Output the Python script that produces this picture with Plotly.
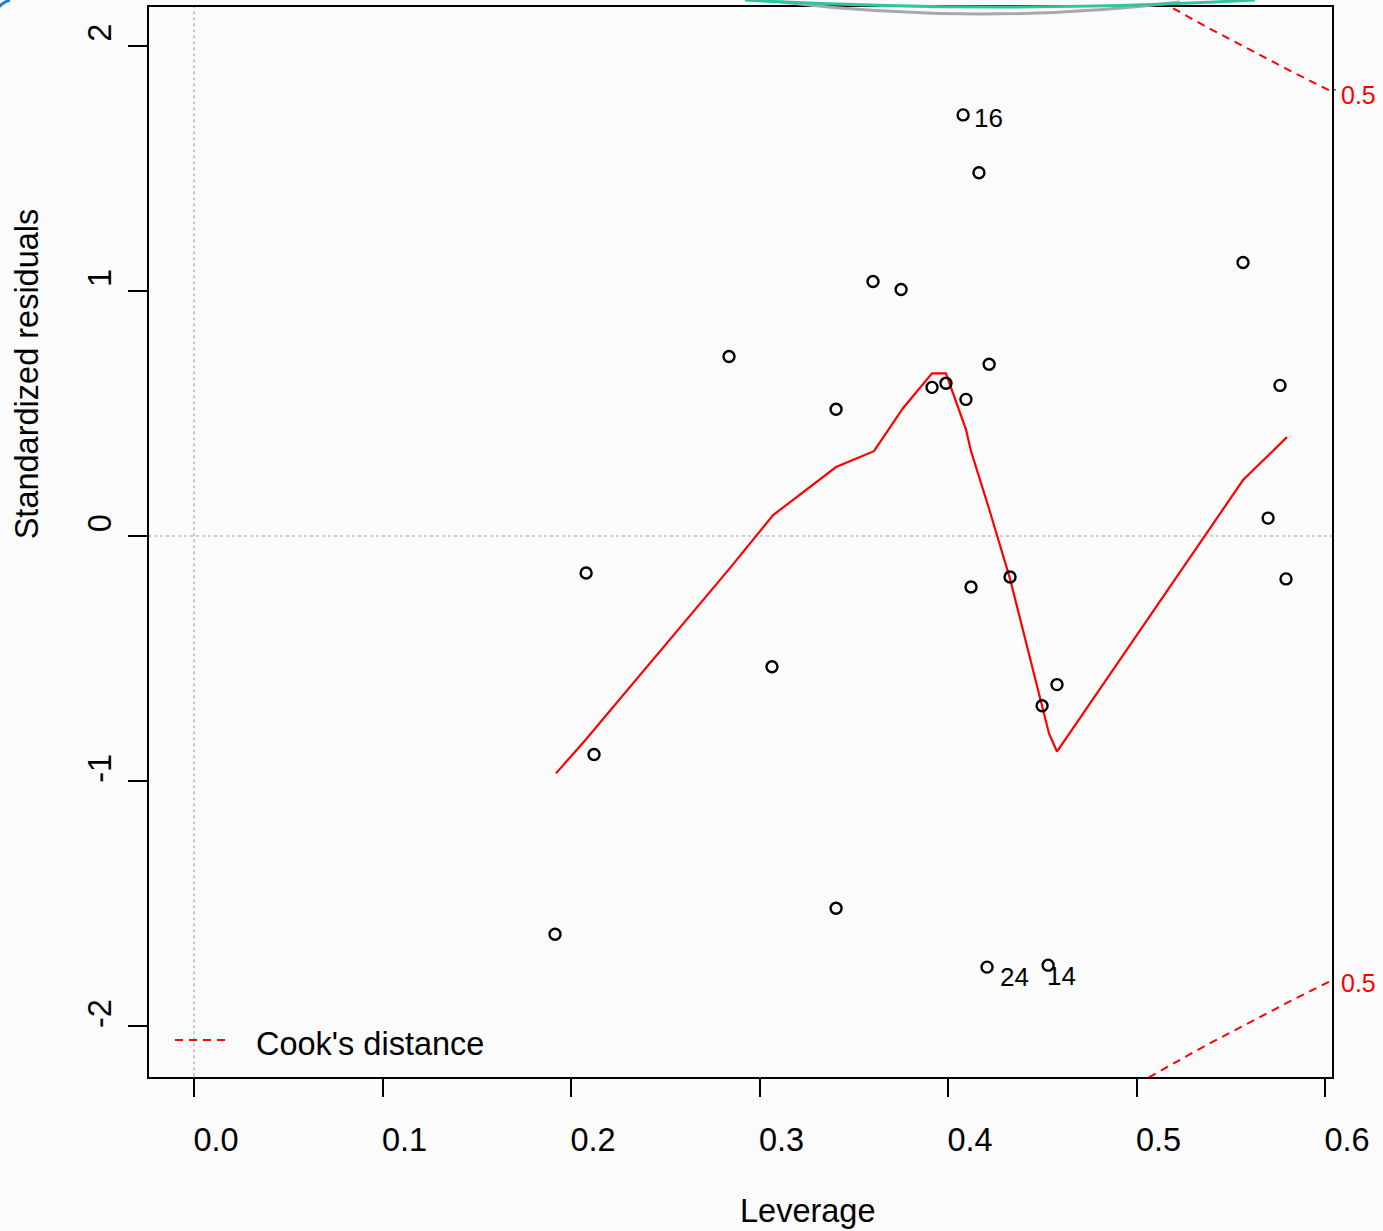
import plotly.graph_objects as go

# ---- data ----
leverage = [0.408, 0.4164, 0.3602, 0.3751, 0.5565, 0.2838, 0.4218, 0.3915, 0.3989,
            0.4095, 0.3406, 0.5761, 0.5698, 0.5793, 0.2080, 0.4122, 0.4329, 0.3066,
            0.4578, 0.4499, 0.2122, 0.3406, 0.1915, 0.4207, 0.4531]
std_resid = [1.717, 1.481, 1.038, 1.005, 1.115, 0.732, 0.700, 0.606, 0.623,
             0.557, 0.517, 0.614, 0.073, -0.175, -0.151, -0.208, -0.167, -0.533,
             -0.606, -0.692, -0.891, -1.518, -1.624, -1.758, -1.750]

id_labels = ["16", "24", "14"]
id_x = [0.408, 0.4207, 0.4531]
id_y = [1.717, -1.758, -1.750]

smooth_x = [0.1920, 0.2074, 0.2844, 0.3072, 0.3406, 0.3607, 0.3761, 0.3915, 0.3989,
            0.4095, 0.4122, 0.4218, 0.4329, 0.4499, 0.4536, 0.4578, 0.5565, 0.5798]
smooth_y = [-0.968, -0.834, -0.130, 0.085, 0.281, 0.346, 0.521, 0.663, 0.663,
            0.435, 0.346, 0.110, -0.175, -0.692, -0.806, -0.879, 0.228, 0.403]

cook_h = [0.50, 0.51, 0.52, 0.53, 0.54, 0.55, 0.56, 0.57, 0.58, 0.59, 0.60, 0.61]
cook_upper = [2.236, 2.192, 2.148, 2.106, 2.064, 2.023, 1.982, 1.942, 1.903, 1.864, 1.826, 1.788]
cook_lower = [-2.236, -2.192, -2.148, -2.106, -2.064, -2.023, -1.982, -1.942, -1.903, -1.864, -1.826, -1.788]
cook_level_label = "0.5"

x_ticks = [0.0, 0.1, 0.2, 0.3, 0.4, 0.5, 0.6]
x_tick_text = ["0.0", "0.1", "0.2", "0.3", "0.4", "0.5", "0.6"]
y_ticks = [-2, -1, 0, 1, 2]
y_tick_text = ["-2", "-1", "0", "1", "2"]

X_RANGE = [-0.0239, 0.6037]
Y_RANGE = [-2.206, 2.157]

# ---- layout geometry (pixels) ----
W, H = 1383, 1231
L, R, T, B = 149, 51, 5, 154
PW, PH = W - L - R, H - T - B

def px_x(p):
    return (p - L) / PW

def px_y(p):
    return (H - B - p) / PH

FONT = "Liberation Sans, Arial, sans-serif"
FS = 32.5
BG = "#fbfbfb"

fig = go.Figure()

# reference dotted lines
fig.add_trace(go.Scatter(x=[0, 0], y=[Y_RANGE[0] - 1, Y_RANGE[1] + 1], mode="lines",
                         line=dict(color="#bdbdbd", width=1.6, dash="dot"),
                         showlegend=False, hoverinfo="skip"))
fig.add_trace(go.Scatter(x=[X_RANGE[0] - 1, X_RANGE[1] + 1], y=[0, 0], mode="lines",
                         line=dict(color="#bdbdbd", width=1.6, dash="dot"),
                         showlegend=False, hoverinfo="skip"))

# Cook's distance contours
for cy in (cook_upper, cook_lower):
    fig.add_trace(go.Scatter(x=cook_h, y=cy, mode="lines",
                             line=dict(color="#ff0000", width=2, dash="8px,6px"),
                             showlegend=False, hoverinfo="skip"))

# smoother
fig.add_trace(go.Scatter(x=smooth_x, y=smooth_y, mode="lines",
                         line=dict(color="#ff0000", width=2.2),
                         showlegend=False, hoverinfo="skip"))

# points
fig.add_trace(go.Scatter(x=leverage, y=std_resid, mode="markers",
                         marker=dict(symbol="circle-open", size=11, color="black",
                                     line=dict(width=2.4, color="black")),
                         showlegend=False, cliponaxis=True))

annotations = []
# id labels
shifts = [(9, -3), (11, -10), (-3, -11)]
for lab, xx, yy, (dx, dy) in zip(id_labels, id_x, id_y, shifts):
    annotations.append(dict(x=xx, y=yy, xref="x", yref="y", text=lab, showarrow=False,
                            xanchor="left", yanchor="middle", xshift=dx, yshift=dy,
                            font=dict(family=FONT, size=26, color="black")))

# Cook level labels on right
for pix in (93, 983):
    annotations.append(dict(x=px_x(1339), y=px_y(pix), xref="paper", yref="paper",
                            text=cook_level_label, showarrow=False,
                            xanchor="left", yanchor="middle",
                            font=dict(family=FONT, size=25, color="#ff0000")))

# axis titles
annotations.append(dict(x=px_x(808), y=px_y(1211), xref="paper", yref="paper",
                        text="Leverage", showarrow=False, xanchor="center", yanchor="middle",
                        font=dict(family=FONT, size=FS, color="black")))
annotations.append(dict(x=px_x(27), y=px_y(373), xref="paper", yref="paper",
                        text="Standardized residuals", showarrow=False, textangle=-90,
                        xanchor="center", yanchor="middle",
                        font=dict(family=FONT, size=FS, color="black")))

# legend
annotations.append(dict(x=px_x(254), y=px_y(1044), xref="paper", yref="paper",
                        text="Cook's distance", showarrow=False, xanchor="left", yanchor="middle",
                        font=dict(family=FONT, size=FS, color="black")))

shapes = [
    dict(type="line", xref="paper", yref="paper", x0=px_x(175), x1=px_x(231),
         y0=px_y(1040), y1=px_y(1040), line=dict(color="#ff0000", width=2, dash="8px,6px")),
    dict(type="line", xref="paper", yref="paper", x0=px_x(1332), x1=px_x(1336),
         y0=px_y(88), y1=px_y(88), line=dict(color="black", width=1)),
    # slide decoration arcs at top
    dict(type="path", xref="paper", yref="paper",
         path=f"M {px_x(780)},{px_y(0)} Q {px_x(985)},{px_y(24)} {px_x(1180)},{px_y(0)}",
         line=dict(color="#a8a8a8", width=3)),
    dict(type="path", xref="paper", yref="paper",
         path=f"M {px_x(745)},{px_y(-2)} Q {px_x(1000)},{px_y(12)} {px_x(1255)},{px_y(-2)}",
         line=dict(color="#2ec4a0", width=3)),
    dict(type="path", xref="paper", yref="paper",
         path=f"M {px_x(-2)},{px_y(6)} Q {px_x(3)},{px_y(0)} {px_x(10)},{px_y(-2)}",
         line=dict(color="#1e7fd0", width=3)),
]

fig.update_layout(
    width=W, height=H,
    margin=dict(l=L, r=R, t=T, b=B, pad=0),
    paper_bgcolor=BG, plot_bgcolor=BG,
    font=dict(family=FONT, size=FS, color="black"),
    showlegend=False,
    annotations=annotations,
    shapes=shapes,
)

fig.update_xaxes(range=X_RANGE, tickvals=x_ticks, ticktext=x_tick_text,
                 showgrid=False, zeroline=False,
                 showline=True, mirror=True, linecolor="black", linewidth=2,
                 ticks="outside", ticklen=18, tickwidth=2, tickcolor="black",
                 tickfont=dict(family=FONT, size=FS, color="black"),
                 ticklabelshift=22, ticklabelstandoff=15)
fig.update_yaxes(range=Y_RANGE, tickvals=y_ticks, ticktext=y_tick_text,
                 showgrid=False, zeroline=False,
                 showline=True, mirror=True, linecolor="black", linewidth=2,
                 ticks="outside", ticklen=19, tickwidth=2, tickcolor="black",
                 tickangle=-90,
                 tickfont=dict(family=FONT, size=FS, color="black"),
                 ticklabelshift=-8, ticklabelstandoff=4)

fig.write_html("out.html", config={"displayModeBar": False},
               post_script="document.body.style.margin='0px';document.body.style.background='%s';" % BG)
